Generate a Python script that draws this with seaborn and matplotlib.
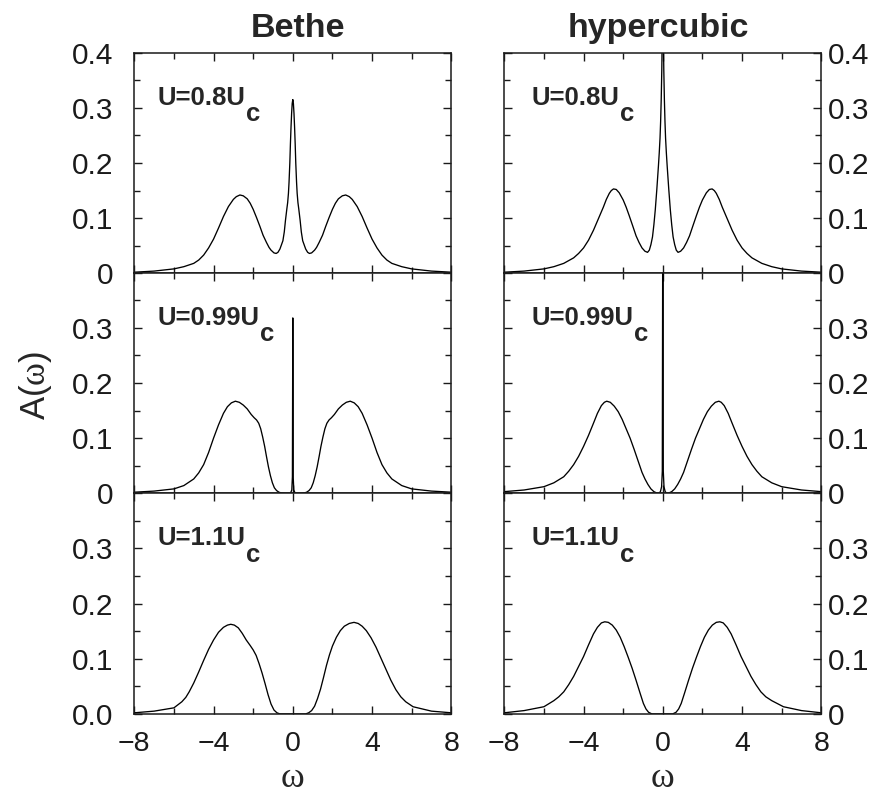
import numpy as np
import pandas as pd
import matplotlib
matplotlib.use("Agg")
import matplotlib.pyplot as plt
import seaborn as sns
from matplotlib.ticker import FixedLocator, MultipleLocator, FixedFormatter

# ---------------- data ----------------
lattices = ["Bethe", "hypercubic"]
u_labels = ["U=0.8U", "U=0.99U", "U=1.1U"]

bethe_08_w = [-8, -7, -6, -5.5, -5, -4.75, -4.5, -4.25, -4, -3.75, -3.5, -3.25, -3, -2.85, -2.67,
              -2.5, -2.3, -2.15, -2, -1.83, -1.66, -1.5, -1.33, -1.2, -1.1, -0.95, -0.84, -0.75,
              -0.65, -0.57, -0.5, -0.43, -0.37, -0.3, -0.26, -0.22, -0.19, -0.15, -0.12, -0.09,
              -0.06, -0.03, 0,
              0.03, 0.06, 0.09, 0.12, 0.15, 0.19, 0.22, 0.26, 0.3, 0.37, 0.43, 0.5, 0.57, 0.65,
              0.75, 0.84, 0.95, 1.1, 1.2, 1.33, 1.5, 1.66, 1.83, 2, 2.15, 2.3, 2.5, 2.67, 2.85, 3,
              3.25, 3.5, 3.75, 4, 4.25, 4.5, 4.75, 5, 5.5, 6, 7, 8]
bethe_08_A = [0.002, 0.004, 0.008, 0.012, 0.018, 0.024, 0.033, 0.046, 0.062, 0.082, 0.103, 0.121,
              0.134, 0.139, 0.142, 0.1405, 0.135, 0.127, 0.116, 0.101, 0.085, 0.069, 0.056, 0.047,
              0.042, 0.037, 0.036, 0.038, 0.044, 0.052, 0.059, 0.075, 0.096, 0.117, 0.128, 0.145,
              0.165, 0.200, 0.235, 0.265, 0.290, 0.308, 0.315,
              0.308, 0.290, 0.265, 0.235, 0.200, 0.165, 0.145, 0.128, 0.117, 0.096, 0.075, 0.059,
              0.052, 0.044, 0.038, 0.036, 0.037, 0.042, 0.047, 0.056, 0.069, 0.085, 0.101, 0.116,
              0.127, 0.135, 0.1405, 0.142, 0.139, 0.134, 0.121, 0.103, 0.082, 0.062, 0.046, 0.033,
              0.024, 0.018, 0.012, 0.008, 0.004, 0.002]

hyper_08_w = [-8, -7, -6, -5.5, -5, -4.5, -4.25, -4, -3.75, -3.5, -3.25, -3, -2.85, -2.7, -2.6,
              -2.49, -2.35, -2.2, -2, -1.85, -1.7, -1.5, -1.35, -1.2, -1.05, -0.9, -0.77, -0.68,
              -0.6, -0.52, -0.45, -0.38, -0.3, -0.22, -0.18, -0.14, -0.11, -0.08, -0.05, -0.03, 0,
              0.03, 0.05, 0.08, 0.11, 0.14, 0.18, 0.22, 0.3, 0.38, 0.45, 0.52, 0.6, 0.68, 0.77,
              0.9, 1.05, 1.2, 1.35, 1.5, 1.7, 1.85, 2, 2.2, 2.35, 2.49, 2.6, 2.7, 2.85, 3, 3.25,
              3.5, 3.75, 4, 4.25, 4.5, 5, 5.5, 6, 7, 8]
hyper_08_A = [0.002, 0.004, 0.008, 0.012, 0.018, 0.028, 0.036, 0.046, 0.060, 0.078, 0.099, 0.120,
              0.134, 0.145, 0.150, 0.153, 0.152, 0.146, 0.133, 0.120, 0.105, 0.084, 0.068, 0.056,
              0.046, 0.040, 0.038, 0.042, 0.052, 0.066, 0.088, 0.115, 0.153, 0.195, 0.218, 0.245,
              0.275, 0.315, 0.370, 0.430, 0.550,
              0.430, 0.370, 0.315, 0.275, 0.245, 0.218, 0.195, 0.153, 0.115, 0.088, 0.066, 0.052,
              0.042, 0.038, 0.040, 0.046, 0.056, 0.068, 0.084, 0.105, 0.120, 0.133, 0.146, 0.152,
              0.153, 0.150, 0.145, 0.134, 0.120, 0.099, 0.078, 0.060, 0.046, 0.036, 0.028, 0.018,
              0.012, 0.008, 0.004, 0.002]

bethe_099_w = [-8, -7, -6, -5.5, -5, -4.75, -4.5, -4.25, -4, -3.75, -3.5, -3.3, -3.1, -2.9, -2.7,
               -2.5, -2.3, -2.1, -1.95, -1.83, -1.72, -1.62, -1.52, -1.42, -1.33, -1.23, -1.13,
               -1.03, -0.93, -0.82, -0.7, -0.57, -0.4, -0.12, -0.05, -0.02, 0,
               0.02, 0.05, 0.12, 0.4, 0.57, 0.7, 0.82, 0.93, 1.03, 1.13, 1.23, 1.33, 1.42, 1.52,
               1.62, 1.72, 1.83, 1.95, 2.1, 2.3, 2.5, 2.7, 2.9, 3.1, 3.3, 3.5, 3.75, 4, 4.25,
               4.5, 4.75, 5, 5.5, 6, 7, 8]
bethe_099_A = [0.002, 0.004, 0.008, 0.014, 0.026, 0.037, 0.052, 0.074, 0.100, 0.124, 0.145, 0.157,
               0.164, 0.167, 0.165, 0.160, 0.153, 0.143, 0.137, 0.133, 0.127, 0.117, 0.102, 0.085,
               0.067, 0.048, 0.032, 0.019, 0.010, 0.005, 0.002, 0.0005, 0.0, 0.0, 0.006, 0.030,
               0.318,
               0.030, 0.006, 0.0, 0.0, 0.0005, 0.002, 0.005, 0.010, 0.019, 0.032, 0.048, 0.067,
               0.085, 0.102, 0.117, 0.127, 0.133, 0.137, 0.143, 0.153, 0.160, 0.165, 0.167, 0.164,
               0.157, 0.145, 0.124, 0.100, 0.074, 0.052, 0.037, 0.026, 0.014, 0.008, 0.004, 0.002]

hyper_099_w = [-8, -7, -6, -5.5, -5, -4.75, -4.5, -4.25, -4, -3.75, -3.5, -3.3, -3.1, -2.95, -2.83,
               -2.65, -2.45, -2.25, -2.05, -1.85, -1.65, -1.45, -1.25, -1.05, -0.9, -0.75, -0.6,
               -0.45, -0.3, -0.2, -0.12, -0.06, -0.025, 0,
               0.025, 0.06, 0.12, 0.2, 0.3, 0.45, 0.6, 0.75, 0.9, 1.05, 1.25, 1.45, 1.65, 1.85,
               2.05, 2.25, 2.45, 2.65, 2.83, 2.95, 3.1, 3.3, 3.5, 3.75, 4, 4.25, 4.5, 4.75, 5,
               5.5, 6, 7, 8]
hyper_099_A = [0.003, 0.006, 0.012, 0.019, 0.030, 0.040, 0.052, 0.067, 0.085, 0.105, 0.127, 0.145,
               0.159, 0.165, 0.167, 0.165, 0.158, 0.148, 0.134, 0.117, 0.100, 0.080, 0.059, 0.038,
               0.026, 0.016, 0.008, 0.003, 0.0005, 0.0, 0.003, 0.012, 0.040, 0.550,
               0.040, 0.012, 0.003, 0.0, 0.0005, 0.003, 0.008, 0.016, 0.026, 0.038, 0.059, 0.080,
               0.100, 0.117, 0.134, 0.148, 0.158, 0.165, 0.167, 0.165, 0.159, 0.145, 0.127, 0.105,
               0.085, 0.067, 0.052, 0.040, 0.030, 0.019, 0.012, 0.006, 0.003]

bethe_11_w = [-8, -7, -6, -5.6, -5.4, -5.23, -5, -4.75, -4.5, -4.25, -4, -3.75, -3.5, -3.3, -3.13,
              -2.95, -2.75, -2.55, -2.35, -2.15, -2, -1.85, -1.7, -1.55, -1.4, -1.25, -1.1, -0.95,
              -0.8, -0.65, 0,
              0.65, 0.8, 0.95, 1.1, 1.25, 1.4, 1.55, 1.7, 1.85, 2, 2.2, 2.4, 2.6, 2.85, 3.09,
              3.3, 3.5, 3.71, 3.95, 4.2, 4.45, 4.7, 4.95, 5.2, 5.45, 5.7, 6.07, 7, 8]
bethe_11_A = [0.002, 0.005, 0.011, 0.022, 0.030, 0.040, 0.056, 0.076, 0.097, 0.117, 0.134, 0.148,
              0.157, 0.161, 0.1625, 0.161, 0.156, 0.146, 0.134, 0.124, 0.116, 0.106, 0.091, 0.074,
              0.055, 0.035, 0.018, 0.007, 0.002, 0.0, 0.0,
              0.0, 0.002, 0.006, 0.014, 0.028, 0.045, 0.066, 0.088, 0.107, 0.123, 0.139, 0.151,
              0.159, 0.164, 0.166, 0.164, 0.159, 0.151, 0.138, 0.121, 0.101, 0.081, 0.061, 0.044,
              0.031, 0.022, 0.013, 0.005, 0.002]

hyper_11_w = [-8, -7, -6, -5.5, -5.25, -5, -4.75, -4.5, -4.25, -4, -3.75, -3.5, -3.3, -3.1, -2.93,
              -2.75, -2.55, -2.35, -2.15, -1.95, -1.75, -1.55, -1.35, -1.15, -0.98, -0.85, -0.72,
              -0.55, 0,
              0.5, 0.67, 0.8, 0.93, 1.1, 1.3, 1.5, 1.7, 1.9, 2.1, 2.3, 2.5, 2.7, 2.88, 3.05,
              3.25, 3.45, 3.7, 3.95, 4.2, 4.45, 4.7, 4.95, 5.2, 5.5, 6.09, 7, 8]
hyper_11_A = [0.002, 0.006, 0.013, 0.024, 0.031, 0.040, 0.053, 0.068, 0.086, 0.104, 0.125, 0.145,
              0.157, 0.165, 0.167, 0.166, 0.161, 0.152, 0.139, 0.122, 0.103, 0.083, 0.061, 0.038,
              0.019, 0.009, 0.003, 0.0, 0.0,
              0.0, 0.003, 0.009, 0.019, 0.038, 0.061, 0.083, 0.103, 0.122, 0.139, 0.152, 0.161,
              0.166, 0.167, 0.165, 0.157, 0.145, 0.125, 0.104, 0.086, 0.068, 0.053, 0.040, 0.031,
              0.024, 0.013, 0.006, 0.002]

series = {
    ("Bethe", 0): (bethe_08_w, bethe_08_A),
    ("hypercubic", 0): (hyper_08_w, hyper_08_A),
    ("Bethe", 1): (bethe_099_w, bethe_099_A),
    ("hypercubic", 1): (hyper_099_w, hyper_099_A),
    ("Bethe", 2): (bethe_11_w, bethe_11_A),
    ("hypercubic", 2): (hyper_11_w, hyper_11_A),
}

x_ticks = [-8, -4, 0, 4, 8]
x_ticklabels = ["\u22128", "\u22124", "0", "4", "8"]
y_ticks = [0, 0.1, 0.2, 0.3, 0.4]
y_ticklabels = {
    ("Bethe", 0): ["0", "0.1", "0.2", "0.3", "0.4"],
    ("hypercubic", 0): ["0", "0.1", "0.2", "0.3", "0.4"],
    ("Bethe", 1): ["0", "0.1", "0.2", "0.3", ""],
    ("hypercubic", 1): ["0", "0.1", "0.2", "0.3", ""],
    ("Bethe", 2): ["0.0", "0.1", "0.2", "0.3", ""],
    ("hypercubic", 2): ["0", "0.1", "0.2", "0.3", ""],
}

rows = []
for (lat, r), (w, a) in series.items():
    for wi, ai in zip(w, a):
        rows.append({"lattice": lat, "row": r, "w": wi, "A": ai})
df = pd.DataFrame(rows)

# ---------------- styling ----------------
sns.set_theme(style="ticks")
plt.rcParams["font.family"] = ["Liberation Sans", "DejaVu Sans"]
plt.rcParams["mathtext.fontset"] = "custom"
plt.rcParams["mathtext.rm"] = "Liberation Serif"
plt.rcParams["axes.edgecolor"] = "#1a1a1a"
plt.rcParams["axes.linewidth"] = 1.1
plt.rcParams["xtick.color"] = "#1a1a1a"
plt.rcParams["ytick.color"] = "#1a1a1a"

W, H = 891, 797
fig = plt.figure(figsize=(W / 100, H / 100), dpi=100)

col_x = {"Bethe": 134.3, "hypercubic": 504.3}
title_x = {"Bethe": 0.515, "hypercubic": 0.487}
col_w = 317.0
row_top = [52.7, 272.7, 493.3]
row_h = 220.6

for lat in lattices:
    for r in range(3):
        left = col_x[lat] / W
        bottom = 1 - (row_top[r] + row_h) / H
        ax = fig.add_axes([left, bottom, col_w / W, row_h / H])
        sub = df[(df.lattice == lat) & (df.row == r)]
        sns.lineplot(data=sub, x="w", y="A", ax=ax, color="black", linewidth=0.95,
                     estimator=None, sort=False)
        ax.set_xlim(-8, 8)
        ax.set_ylim(0, 0.4)
        ax.xaxis.set_major_locator(FixedLocator(x_ticks))
        ax.xaxis.set_minor_locator(MultipleLocator(2))
        ax.yaxis.set_major_locator(FixedLocator(y_ticks))
        ax.yaxis.set_minor_locator(MultipleLocator(0.05))
        ax.xaxis.set_major_formatter(FixedFormatter(x_ticklabels))
        ax.yaxis.set_major_formatter(FixedFormatter(y_ticklabels[(lat, r)]))
        ax.tick_params(which="both", direction="in", top=True, bottom=True, left=True,
                       right=True, width=1.0)
        ax.tick_params(which="major", length=6)
        ax.tick_params(which="minor", length=4)
        ax.tick_params(axis="x", labelsize=20.5, pad=12, labelbottom=(r == 2))
        if lat == "Bethe":
            ax.tick_params(axis="y", labelsize=21.5, labelleft=True, labelright=False, pad=15)
        else:
            ax.tick_params(axis="y", labelsize=21.5, labelleft=False, labelright=True, pad=5)
        ax.set_ylabel("")
        if r == 2:
            ax.set_xlabel("\u03c9", fontsize=26, family="Liberation Serif", labelpad=4)
        else:
            ax.set_xlabel("")
        if r == 0:
            ax.set_title(lat, fontsize=24.5, fontweight="bold", pad=11, x=title_x[lat])
        xoff = 0.072 if lat == "Bethe" else 0.085
        t = ax.text(xoff, 0.764, u_labels[r], transform=ax.transAxes, fontsize=18.5,
                    fontweight="bold", va="baseline", ha="left")
        ax.annotate("c", xy=(1, 0), xycoords=t, xytext=(0.8, -8.3),
                    textcoords="offset points", fontsize=18.5, fontweight="bold",
                    va="baseline", ha="left")

fig.text(35 / W, 1 - 385 / H, r"A($\mathrm{\omega}$)", rotation=90, ha="center",
         va="center", fontsize=25)

fig.savefig("out.png", dpi=100)
